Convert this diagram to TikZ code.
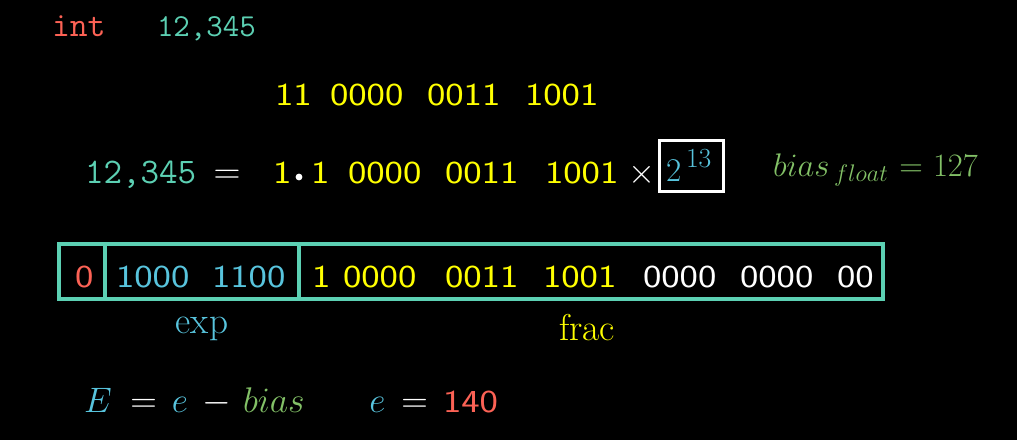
\documentclass[tikz,border=0pt]{standalone}
\usepackage{graphicx}
\definecolor{mred}{HTML}{FC6255}
\definecolor{mteal}{HTML}{5CD0B3}
\definecolor{myellow}{HTML}{FFFF00}
\definecolor{mblue}{HTML}{58C4DD}
\definecolor{mgreen}{HTML}{83C167}
\begin{document}
\begin{tikzpicture}[x=0.75pt,y=-0.75pt,
  every node/.style={inner sep=0pt, outer sep=0pt},
  tt/.style={font=\ttfamily\fontsize{#1}{#1}\selectfont, anchor=base west},
  bits/.style={font=\sffamily\fontsize{24}{28}\selectfont, anchor=base west, xscale=1.22},
  mth/.style={font=\fontsize{#1}{#1}\selectfont},
  mm/.style={font=\fontsize{20.74}{24}\selectfont, scale=#1},
  fieldbox/.style={draw=mteal, line width=3pt},
  powbox/.style={draw=white, line width=2.25pt},
 ]
\fill[black] (0,0) rectangle (1017,440);
\useasboundingbox (0,0) rectangle (1017,440);

% top line
\node[tt=26, text=mred] (int) at (52,36) {int};
\node[tt=24, text=mteal] (num) at (157,36) {12,345};

% binary
\node[bits, text=myellow] (b2a) at (275,105) {11};
\node[bits, text=myellow] (b2b) at (330,105) {0000};
\node[bits, text=myellow] (b2c) at (427,105) {0011};
\node[bits, text=myellow] (b2d) at (525,105) {1001};

% normalized
\node[tt=27, text=mteal] (n3) at (85,183) {12,345};
\node[mm=1.35, anchor=base, text=white] (eq3) at (227,183) {$=$};
\node[bits, text=myellow] (one) at (273,183) {1};
\fill[white] (299,177) circle (3.4);
\node[bits, text=myellow] (fr1) at (311,183) {1};
\node[bits, text=myellow] (fr2) at (348,183) {0000};
\node[bits, text=myellow] (fr3) at (445,183) {0011};
\node[bits, text=myellow] (fr4) at (545,183) {1001};
\node[mm=1.254, anchor=base, text=white] (times) at (642,183) {$\times$};
\draw[powbox] (659,140) rectangle (723,191);
\node[mm=1.2, anchor=base west, text=mblue] (pow) at (666,181) {$2$};
\node[mm=1.0, anchor=base west, text=mblue] (powexp) at (686,167) {$13$};

\node[mm=1.181, anchor=base west, text=mgreen] (bias) at (773,176) {$bias$};
\node[mm=0.868, anchor=base west, text=mgreen] (biassub) at (834,181) {$float$};
\node[mm=1.181, anchor=base, text=mgreen] (biaseq) at (911,176) {$=$};
\node[mm=1.181, anchor=base west, text=mgreen] (biasval) at (933,176) {$127$};

% field box
\draw[fieldbox] (59,244) rectangle (883,299);
\draw[fieldbox] (105,244) -- (105,299);
\draw[fieldbox] (299,244) -- (299,299);
\node[bits, text=mred] (s) at (75,287) {0};
\node[bits, text=mblue] (e1) at (116,287) {1000};
\node[bits, text=mblue] (e2) at (212,287) {1100};
\node[bits, text=myellow] (f1) at (312,287) {1};
\node[bits, text=myellow] (f2) at (343,287) {0000};
\node[bits, text=myellow] (f3) at (445,287) {0011};
\node[bits, text=myellow] (f4) at (543,287) {1001};
\node[bits, text=white] (f5) at (643,287) {0000};
\node[bits, text=white] (f6) at (740,287) {0000};
\node[bits, text=white] (f7) at (837,287) {00};

\node[mth=28, anchor=base, text=mblue] (exp) at (202,333) {exp};
\node[mth=28, anchor=base, text=myellow] (frac) at (587,340) {frac};

% bottom
\node[mm=1.278, anchor=base west, text=mblue] (E) at (84,412) {$E$};
\node[mm=1.33, anchor=base, text=white] (eqa) at (143.5,412) {$=$};
\node[mm=1.278, anchor=base, text=mblue] (ea) at (180,412) {$e$};
\node[mm=1.33, anchor=base, text=white] (minus) at (216.5,412) {$-$};
\node[mm=1.29, anchor=base west, text=mgreen] (biasb) at (243,412) {$bias$};
\node[mm=1.278, anchor=base, text=mblue] (eb) at (377.5,412) {$e$};
\node[mm=1.33, anchor=base, text=white] (eqb) at (414.5,412) {$=$};
\node[bits, text=mred] (val) at (443,412) {140};
\end{tikzpicture}
\end{document}
